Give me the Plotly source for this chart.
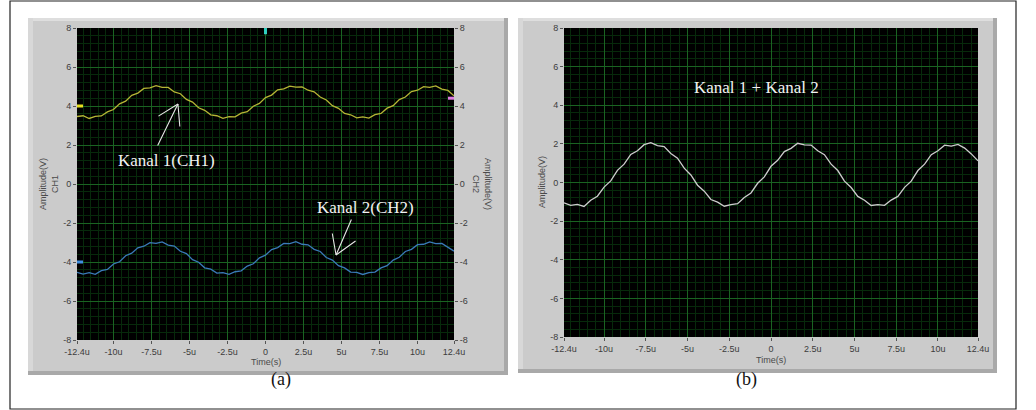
import plotly.graph_objects as go

# ---------------- data ----------------
time_us = [-12.4, -12.0, -11.6, -11.2, -10.8, -10.4, -10.0, -9.6, -9.2, -8.8, -8.4, -8.0,
           -7.6, -7.2, -6.8, -6.4, -6.0, -5.6, -5.2, -4.8, -4.4, -4.0, -3.6, -3.2, -2.8,
           -2.4, -2.0, -1.6, -1.2, -0.8, -0.4, 0.0, 0.4, 0.8, 1.2, 1.6, 2.0, 2.4, 2.8, 3.2,
           3.6, 4.0, 4.4, 4.8, 5.2, 5.6, 6.0, 6.4, 6.8, 7.2, 7.6, 8.0, 8.4, 8.8, 9.2, 9.6,
           10.0, 10.4, 10.8, 11.2, 11.6, 12.0, 12.4]

ch1 = [3.46, 3.50, 3.36, 3.47, 3.49, 3.70, 3.82, 4.11, 4.25, 4.55,
       4.66, 4.90, 4.93, 5.04, 4.96, 4.95, 4.72, 4.63, 4.34, 4.20,
       3.91, 3.78, 3.55, 3.50, 3.37, 3.45, 3.44, 3.63, 3.71, 3.99,
       4.13, 4.43, 4.56, 4.83, 4.88, 5.02, 4.97, 4.98, 4.81, 4.73,
       4.46, 4.31, 4.02, 3.88, 3.62, 3.55, 3.39, 3.44, 3.38, 3.56,
       3.62, 3.89, 4.02, 4.33, 4.46, 4.74, 4.81, 4.99, 4.96, 5.03,
       4.87, 4.80, 4.52]

ch2 = [-4.53, -4.62, -4.55, -4.63, -4.44, -4.38, -4.10, -3.99, -3.68, -3.55,
       -3.27, -3.19, -3.01, -3.04, -2.97, -3.13, -3.18, -3.45, -3.57, -3.88,
       -4.01, -4.30, -4.37, -4.57, -4.55, -4.63, -4.50, -4.45, -4.21, -4.09,
       -3.79, -3.65, -3.36, -3.26, -3.05, -3.06, -2.96, -3.09, -3.12, -3.35,
       -3.46, -3.77, -3.90, -4.19, -4.30, -4.52, -4.53, -4.64, -4.54, -4.52,
       -4.30, -4.19, -3.90, -3.76, -3.46, -3.35, -3.11, -3.09, -2.97, -3.06,
       -3.05, -3.26, -3.44]

ch_sum = [-1.05, -1.18, -1.13, -1.24, -0.92, -0.71, -0.24, 0.08, 0.63, 0.95,
          1.45, 1.64, 1.96, 2.06, 1.91, 1.86, 1.50, 1.26, 0.74, 0.39,
          -0.14, -0.45, -0.88, -1.02, -1.23, -1.14, -1.10, -0.78, -0.54, -0.04,
          0.29, 0.84, 1.15, 1.60, 1.77, 2.03, 1.95, 1.94, 1.64, 1.44,
          0.95, 0.62, 0.07, -0.26, -0.72, -0.92, -1.19, -1.15, -1.18, -0.91,
          -0.72, -0.25, 0.07, 0.62, 0.95, 1.44, 1.64, 1.93, 1.88, 1.97,
          1.78, 1.48, 1.12]

x_tick_vals = [-12.4, -10, -7.5, -5, -2.5, 0, 2.5, 5, 7.5, 10, 12.4]
x_tick_text = ["-12.4u", "-10u", "-7.5u", "-5u", "-2.5u", "0", "2.5u", "5u", "7.5u", "10u", "12.4u"]
y_tick_vals = [-8, -6, -4, -2, 0, 2, 4, 6, 8]
y_tick_text = ["-8", "-6", "-4", "-2", "0", "2", "4", "6", "8"]

# ---------------- styling ----------------
W, H = 1036, 410
GRID_MAJOR = "#1a6322"
GRID_MINOR = "#072a0b"
FRAME = "#cbcbcb"
TICKFONT = dict(family="Liberation Sans, Arial, sans-serif", size=9, color="#3c3c3c")
TITLEFONT = dict(family="Liberation Sans, Arial, sans-serif", size=9, color="#4a4a4a")
SERIF = dict(family="Liberation Serif, Times New Roman, serif", size=17, color="#f2f2f2")
LABELFONT = dict(family="Liberation Serif, Times New Roman, serif", size=18, color="#111")


def px(x):
    return x / W


def py(y):
    return 1 - y / H


def xaxis(domain, anchor):
    return dict(domain=domain, anchor=anchor, range=[-12.4, 12.4], automargin=False,
                tickmode="array", tickvals=x_tick_vals, ticktext=x_tick_text,
                ticks="outside", ticklen=3, tickcolor="#555", tickwidth=1,
                tickfont=TICKFONT, showgrid=True, gridcolor=GRID_MAJOR, gridwidth=1,
                zeroline=False, showline=False, fixedrange=True,
                minor=dict(tick0=0, dtick=0.5, showgrid=True, gridcolor=GRID_MINOR,
                           gridwidth=1, ticks=""))


def yaxis(domain, anchor, side="left", overlaying=None, grid=True):
    d = dict(domain=domain, anchor=anchor, range=[-8, 8], side=side, automargin=False,
             tickmode="array", tickvals=y_tick_vals, ticktext=y_tick_text,
             ticks="outside", ticklen=3, tickcolor="#555", tickwidth=1,
             tickfont=TICKFONT, showgrid=grid, gridcolor=GRID_MAJOR, gridwidth=1,
             zeroline=False, showline=False, fixedrange=True)
    if grid:
        d["minor"] = dict(tick0=0, dtick=0.4, showgrid=True, gridcolor=GRID_MINOR,
                          gridwidth=1, ticks="")
    if overlaying:
        d["overlaying"] = overlaying
    return d


fig = go.Figure()
fig.add_trace(go.Scatter(x=time_us, y=ch1, mode="lines", name="CH1",
                         line=dict(color="#b5b535", width=1.3), xaxis="x", yaxis="y"))
fig.add_trace(go.Scatter(x=time_us, y=ch2, mode="lines", name="CH2",
                         line=dict(color="#3a7ab8", width=1.3), xaxis="x", yaxis="y3"))
fig.add_trace(go.Scatter(x=time_us, y=ch_sum, mode="lines", name="CH1+CH2",
                         line=dict(color="#cdcdcd", width=1.3), xaxis="x2", yaxis="y2"))

# plot-area geometry (pixels)
A = dict(l=77, r=454, t=28, b=340)
B = dict(l=564, r=978, t=28, b=337)

shapes = [
    dict(type="rect", xref="paper", yref="paper", x0=px(10), x1=px(1016), y0=py(409), y1=py(1),
         line=dict(color="#222", width=1.2), fillcolor="rgba(0,0,0,0)", layer="below"),
]
for (fl, ft, fr, fb), P in (((28, 18, 508, 375), A), ((518, 18, 997, 373), B)):
    shapes += [
        dict(type="rect", xref="paper", yref="paper", x0=px(fl), x1=px(fr), y0=py(fb), y1=py(ft),
             line=dict(width=0), fillcolor="#a9a9a9", layer="below"),
        dict(type="rect", xref="paper", yref="paper", x0=px(fl), x1=px(fr - 4), y0=py(fb - 4), y1=py(ft),
             line=dict(width=0), fillcolor=FRAME, layer="below"),
        dict(type="rect", xref="paper", yref="paper", x0=px(fl), x1=px(fr - 4), y0=py(ft + 3), y1=py(ft),
             line=dict(width=0), fillcolor="#dedede", layer="below"),
        dict(type="rect", xref="paper", yref="paper", x0=px(fl), x1=px(fl + 5), y0=py(fb - 4), y1=py(ft),
             line=dict(width=0), fillcolor="#d8d8d8", layer="below"),
        dict(type="rect", xref="paper", yref="paper", x0=px(P["l"]), x1=px(P["r"]),
             y0=py(P["b"]), y1=py(P["t"]), line=dict(width=0), fillcolor="#000000", layer="below"),
    ]

# LabVIEW cursor / offset markers on panel (a)
shapes += [
    dict(type="line", xref="x domain", yref="y", x0=0, x1=0.016, y0=4, y1=4,
         line=dict(color="#e6e020", width=3)),
    dict(type="line", xref="x domain", yref="y", x0=0, x1=0.016, y0=-4, y1=-4,
         line=dict(color="#3f8fe0", width=3)),
    dict(type="line", xref="x domain", yref="y", x0=0.984, x1=1.0, y0=4.4, y1=4.4,
         line=dict(color="#e080e0", width=3)),
    dict(type="line", xref="x", yref="y domain", x0=0, x1=0, y0=0.98, y1=1.0,
         line=dict(color="#30d0c0", width=3)),
]

annotations = [
    dict(text="Time(s)", xref="paper", yref="paper", x=px((A["l"] + A["r"]) / 2), y=py(362),
         showarrow=False, font=TITLEFONT, xanchor="center", yanchor="middle", borderpad=0),
    dict(text="Time(s)", xref="paper", yref="paper", x=px((B["l"] + B["r"]) / 2), y=py(360),
         showarrow=False, font=TITLEFONT, xanchor="center", yanchor="middle", borderpad=0),
    dict(text="Amplitude(V)<br>CH1", xref="paper", yref="paper", x=px(49), y=py(184),
         showarrow=False, font=TITLEFONT, textangle=-90, xanchor="center", yanchor="middle"),
    dict(text="Amplitude(V)<br>CH2", xref="paper", yref="paper", x=px(482), y=py(184),
         showarrow=False, font=TITLEFONT, textangle=90, xanchor="center", yanchor="middle"),
    dict(text="Amplitude(V)", xref="paper", yref="paper", x=px(542), y=py(182),
         showarrow=False, font=TITLEFONT, textangle=-90, xanchor="center", yanchor="middle"),
    dict(text="(a)", xref="paper", yref="paper", x=px(270), y=py(391), showarrow=False,
         font=LABELFONT, borderpad=0),
    dict(text="(b)", xref="paper", yref="paper", x=px(758), y=py(391), showarrow=False,
         font=LABELFONT, borderpad=0),
    dict(text="Kanal 1(CH1)", xref="x", yref="y", x=-6.48, y=1.23, showarrow=False, font=SERIF),
    dict(text="Kanal 2(CH2)", xref="x", yref="y", x=6.55, y=-1.18, showarrow=False, font=SERIF),
    dict(text="Kanal 1 + Kanal 2", xref="x2", yref="y2", x=-0.84, y=4.94, showarrow=False, font=SERIF),
]

ARROW = dict(showarrow=True, arrowhead=0, arrowwidth=1.1, arrowcolor="#e6e6e6", text="")
for ax_, ay_ in ((-21, 43), (-21, 13), (2, 24)):
    annotations.append(dict(xref="x", yref="y", x=-5.76, y=4.1, ax=ax_, ay=ay_, **ARROW))
for ax_, ay_ in ((16, -37), (-4, -23), (21, -15)):
    annotations.append(dict(xref="x", yref="y", x=4.64, y=-3.64, ax=ax_, ay=ay_, **ARROW))

fig.update_layout(
    width=W, height=H, margin=dict(l=0, r=0, t=0, b=0, autoexpand=False),
    paper_bgcolor="white", plot_bgcolor="black", showlegend=False,
    xaxis=xaxis([px(A["l"]), px(A["r"])], "y"),
    yaxis=yaxis([py(A["b"]), py(A["t"])], "x"),
    yaxis3=yaxis([py(A["b"]), py(A["t"])], "x", side="right", overlaying="y", grid=False),
    xaxis2=xaxis([px(B["l"]), px(B["r"])], "y2"),
    yaxis2=yaxis([py(B["b"]), py(B["t"])], "x2"),
    shapes=shapes, annotations=annotations,
)

fig.write_html("out.html", config={"displayModeBar": False, "staticPlot": True},
               post_script="document.body.style.margin='0';document.body.style.overflow='hidden';")
